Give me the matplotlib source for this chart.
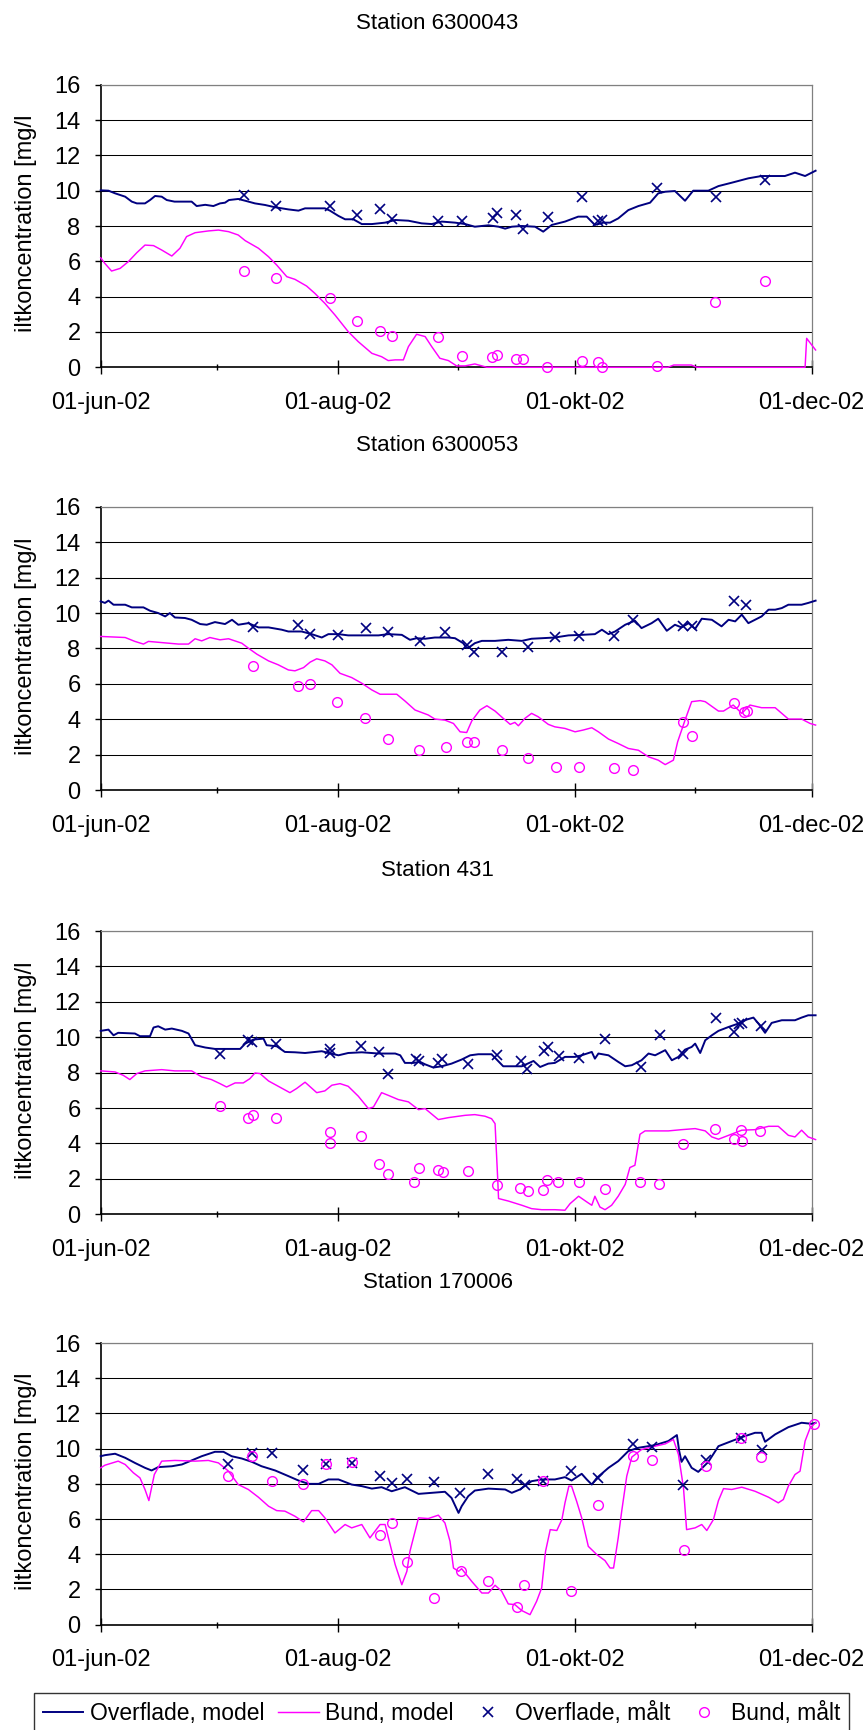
"""Iltkoncentration 2002: model mod målinger, overflade og bund, for fire stationer."""

import matplotlib

matplotlib.use("Agg")
import matplotlib.dates as mdates
import matplotlib.pyplot as plt
import numpy as np
from matplotlib.lines import Line2D
from matplotlib.ticker import FuncFormatter, MultipleLocator

plt.rcParams["font.family"] = ["Liberation Sans", "DejaVu Sans"]

# all series: (dage efter 01-jun-02, iltkoncentration mg/l)
STATIONS = ["Station 6300043", "Station 6300053", "Station 431", "Station 170006"]

s1_surf_model = [
    (0, 10.02), (2, 10.0), (3.7, 9.85), (6.3, 9.66), (8, 9.38), (9.3, 9.28), (11.4, 9.28), (12.7, 9.47),
    (14, 9.7), (15.7, 9.66), (17, 9.47), (19, 9.38), (23.4, 9.38), (24.7, 9.13), (26.9, 9.2), (29, 9.13),
    (30.7, 9.28), (32, 9.32), (33, 9.47), (35.4, 9.53), (37.2, 9.43), (39.7, 9.28), (42.3, 9.19),
    (44.9, 9.06), (48.3, 8.94), (50.9, 8.87), (52.6, 9.0), (57.7, 9.0), (59, 8.87), (61.2, 8.57),
    (62.9, 8.38), (65, 8.38), (67.2, 8.11), (69.8, 8.11), (73.2, 8.19), (75.8, 8.34), (79.2, 8.3),
    (82.6, 8.15), (85.2, 8.11), (87.8, 8.25), (91.2, 8.19), (93.8, 8.11), (96.3, 7.96), (99.8, 8.04),
    (102.4, 7.96), (104.1, 7.85), (105.8, 7.96), (108.4, 8.0), (111.8, 7.96), (113.9, 7.68), (116.1, 8.06),
    (119.5, 8.25), (122.9, 8.53), (125.1, 8.53), (127.2, 8.06), (129.4, 8.19), (131.1, 8.19), (133.2, 8.43),
    (135.8, 8.9), (138.4, 9.13), (141.4, 9.32), (143.5, 9.85), (145.3, 9.94), (147.8, 9.98), (150.4, 9.43),
    (152.5, 10.0), (156.4, 10.0), (159, 10.26), (162.4, 10.45), (166.7, 10.7), (170.1, 10.83),
    (176.1, 10.83), (178.7, 11.02), (181.3, 10.83), (184, 11.13),
]
s1_bund_model = [
    (0, 6.2), (1, 5.9), (2.8, 5.45), (5, 5.6), (7.1, 5.98), (9.3, 6.49), (11.4, 6.92), (13.6, 6.89),
    (15.7, 6.64), (18.3, 6.3), (20.4, 6.74), (22.1, 7.4), (24.3, 7.62), (27.7, 7.72), (30.3, 7.77),
    (32.9, 7.68), (35.4, 7.49), (37.2, 7.17), (40.6, 6.74), (43.2, 6.26), (45.3, 5.79), (47.9, 5.13),
    (50, 4.98), (53, 4.6), (55.1, 4.19), (57.7, 3.62), (60.3, 2.96), (63.7, 2.02), (66.3, 1.45),
    (69.8, 0.79), (72.3, 0.6), (74, 0.38), (75.8, 0.42), (77.9, 0.42), (79.2, 1.17), (81.3, 1.87),
    (83.5, 1.74), (85.2, 1.17), (87.3, 0.51), (89.5, 0.38), (91.6, 0.08), (93.8, 0.08), (96.3, 0.19),
    (99.4, 0.0), (146, 0.0), (147.5, 0.13), (152, 0.13), (153.5, 0.0), (181.3, 0.0), (181.7, 1.64),
    (184, 0.98),
]
s1_surf_obs = [
    (36.9, 9.75), (45.1, 9.13), (59.1, 9.13), (65.9, 8.62), (71.9, 8.98), (74.9, 8.38), (86.9, 8.28),
    (92.9, 8.28), (101.1, 8.43), (101.9, 8.72), (106.9, 8.62), (108.8, 7.81), (115.1, 8.49), (123.8, 9.62),
    (128.1, 8.28), (129, 8.34), (143.1, 10.13), (158.4, 9.62), (171, 10.6),
]
s1_bund_obs = [
    (36.9, 5.47), (45.1, 5.04), (59.1, 3.94), (65.9, 2.64), (71.9, 2.06), (74.9, 1.79), (86.9, 1.74),
    (92.9, 0.64), (100.8, 0.57), (101.9, 0.7), (106.9, 0.47), (108.8, 0.47), (114.8, 0.0), (123.8, 0.38),
    (127.9, 0.32), (129, 0.0), (143.1, 0.08), (158.1, 3.72), (171, 4.89),
]

s2_surf_model = [
    (0, 10.66), (1.1, 10.57), (2, 10.7), (3.3, 10.47), (6.3, 10.47), (8, 10.32), (11, 10.32), (12.7, 10.13),
    (14.8, 10.0), (16.6, 9.81), (17.8, 10.0), (19.1, 9.75), (21.7, 9.72), (23.4, 9.62), (25.6, 9.38),
    (27.3, 9.34), (29.4, 9.49), (32, 9.38), (33.8, 9.62), (35.4, 9.34), (38, 9.43), (40.6, 9.19),
    (43.2, 9.19), (46.6, 9.06), (48.3, 8.96), (51.7, 8.96), (54.3, 8.81), (56.9, 8.62), (58.6, 8.81),
    (61.2, 8.81), (63.7, 8.74), (67.2, 8.74), (71.5, 8.74), (74, 8.81), (77.5, 8.77), (79.6, 8.49),
    (81.3, 8.58), (83.5, 8.55), (86, 8.62), (89.5, 8.62), (91.2, 8.58), (93.3, 8.3), (94.2, 8.02),
    (95.1, 8.11), (96.3, 8.3), (98.1, 8.43), (101.5, 8.43), (104.9, 8.49), (108.4, 8.43), (110.9, 8.55),
    (113.5, 8.58), (116.9, 8.62), (120.4, 8.74), (123.8, 8.77), (127.2, 8.81), (129, 9.06), (130.7, 8.81),
    (132.4, 8.96), (135, 9.34), (137.5, 9.57), (139.2, 9.15), (141.8, 9.43), (143.5, 9.68), (145.7, 9.0),
    (147.8, 9.34), (149.5, 9.19), (151.3, 9.43), (153, 9.11), (154.7, 9.68), (157.3, 9.62), (159.8, 9.25),
    (161.6, 9.62), (163.3, 9.53), (165, 9.91), (166.7, 9.43), (168.4, 9.62), (170.1, 9.81), (171.9, 10.19),
    (173.6, 10.19), (175.3, 10.28), (177, 10.47), (180.4, 10.47), (182.1, 10.57), (184, 10.7),
]
s2_bund_model = [
    (0, 8.68), (6.3, 8.62), (8.8, 8.4), (11, 8.25), (12.3, 8.4), (20, 8.25), (22.6, 8.25), (24.3, 8.55),
    (26, 8.43), (28.1, 8.62), (30.7, 8.49), (32.9, 8.55), (36.3, 8.3), (38, 8.02), (40.2, 7.68), (43.2, 7.3),
    (45.7, 7.08), (48.3, 6.79), (50, 6.74), (52.2, 6.92), (53.9, 7.23), (55.6, 7.42), (57.7, 7.3),
    (59.5, 7.08), (61.6, 6.6), (64.6, 6.36), (67.2, 6.04), (69.8, 5.66), (71.9, 5.42), (76.2, 5.42),
    (78.3, 5.04), (80.9, 4.53), (84.3, 4.25), (86, 4.02), (88.6, 3.96), (90.8, 3.77), (92.5, 3.3),
    (94.2, 3.26), (95.5, 3.91), (97.6, 4.53), (99.4, 4.77), (101.5, 4.47), (103.6, 4.06), (105.4, 3.72),
    (106.6, 3.83), (107.5, 3.64), (109.2, 4.06), (110.9, 4.34), (112.6, 4.15), (115.2, 3.72), (116.9, 3.58),
    (119.5, 3.49), (122.1, 3.3), (124.2, 3.4), (126.4, 3.53), (128.1, 3.3), (130.7, 2.89), (133.2, 2.64),
    (135.8, 2.36), (138.4, 2.26), (141, 1.89), (143.5, 1.7), (145.3, 1.45), (147.4, 1.7), (148.5, 2.74),
    (150.4, 3.96), (152.1, 5.0), (154.3, 5.06), (155.6, 5.0), (159, 4.47), (160.3, 4.47), (162.8, 4.81),
    (165, 4.34), (167.1, 4.81), (170.1, 4.66), (173.6, 4.66), (177, 4.02), (180.4, 4.02), (182.6, 3.77),
    (184, 3.68),
]
s2_surf_obs = [
    (39.3, 9.19), (50.7, 9.34), (53.9, 8.81), (61, 8.74), (68.2, 9.15), (74, 8.91), (82.2, 8.4), (88.6, 8.92),
    (94.2, 8.21), (96.1, 7.79), (103.2, 7.79), (110.1, 8.08), (116.9, 8.64), (123.1, 8.68), (132.2, 8.68),
    (137.1, 9.62), (150, 9.25), (152.3, 9.25), (163.1, 10.66), (166, 10.47),
]
s2_bund_obs = [
    (39.1, 7.02), (50.7, 5.89), (53.9, 6.02), (60.9, 5.0), (68, 4.09), (74, 2.92), (82, 2.26), (88.8, 2.42),
    (94.2, 2.74), (96.1, 2.7), (103.2, 2.26), (109.9, 1.83), (117.1, 1.32), (123.1, 1.32), (132.2, 1.26),
    (137.1, 1.17), (149.8, 3.83), (152.1, 3.08), (163.1, 4.94), (165.7, 4.4), (166.4, 4.47),
]

s3_surf_model = [
    (0, 10.36), (2, 10.43), (3.3, 10.11), (4.5, 10.25), (8.8, 10.21), (10.1, 10.06), (12.7, 10.06),
    (13.6, 10.55), (14.8, 10.62), (16.6, 10.43), (18.3, 10.49), (20.9, 10.36), (22.6, 10.21), (24.3, 9.55),
    (26.9, 9.42), (29.4, 9.34), (35.9, 9.34), (37.2, 9.64), (39.3, 9.87), (41.9, 9.92), (42.7, 9.55),
    (45.3, 9.49), (47.4, 9.17), (50, 9.15), (52.6, 9.11), (56.9, 9.21), (58.6, 9.11), (61.2, 8.98),
    (63.7, 9.11), (67.2, 9.15), (71.5, 9.08), (75.8, 9.08), (77.1, 8.98), (78.3, 8.55), (80.5, 8.55),
    (82.2, 8.61), (83.5, 8.47), (85.6, 8.29), (87.8, 8.36), (90.3, 8.51), (92.9, 8.74), (95.1, 8.98),
    (97.2, 9.04), (100.6, 9.04), (103.6, 8.36), (108.4, 8.36), (111.4, 8.66), (113.1, 8.32), (115.2, 8.51),
    (116.9, 8.55), (119.5, 8.89), (122.1, 8.89), (123.8, 8.98), (126.4, 9.17), (127.2, 8.79), (128.1, 9.08),
    (130.7, 8.98), (133.2, 8.61), (135, 8.36), (136.7, 8.42), (139.2, 8.7), (141, 9.08), (142.7, 8.98),
    (145.3, 9.27), (147, 8.7), (148.7, 8.89), (150.4, 9.3), (152.1, 9.45), (153, 9.64), (154.3, 9.11),
    (155.6, 9.83), (157.3, 10.11), (159, 10.36), (161.6, 10.58), (164.1, 10.77), (166.3, 11.0), (168, 11.11),
    (169.3, 10.77), (171, 10.25), (172.7, 10.81), (175.3, 10.96), (178.7, 10.96), (180.4, 11.11),
    (182.1, 11.24), (184, 11.24),
]
s3_bund_model = [
    (0, 8.1), (3.7, 8.04), (5.8, 7.85), (7.5, 7.61), (9.3, 7.95), (11.4, 8.1), (15.7, 8.17), (19.1, 8.1),
    (23.4, 8.1), (26, 7.76), (28.5, 7.61), (30.7, 7.38), (32.4, 7.19), (34.6, 7.42), (36.7, 7.42),
    (38.4, 7.66), (39.7, 7.98), (41, 7.95), (43.2, 7.53), (45.7, 7.23), (48.7, 6.87), (50.4, 7.1),
    (52.6, 7.46), (55.6, 6.87), (57.7, 6.97), (59.5, 7.29), (61.6, 7.38), (63.7, 7.23), (66.3, 6.67),
    (68.9, 5.97), (70.2, 6.06), (72.3, 6.87), (74, 6.72), (76.6, 6.48), (79.2, 6.35), (81.8, 5.91),
    (83.5, 5.97), (86.9, 5.35), (89.5, 5.46), (93.8, 5.59), (96.3, 5.63), (98.9, 5.54), (100.6, 5.4),
    (101.5, 5.12), (102.2, 1.92), (102.4, 0.89), (104.9, 0.75), (108.4, 0.51), (110.9, 0.32), (113.5, 0.26),
    (116.9, 0.26), (119.5, 0.23), (120.8, 0.6), (123, 1.02), (125.1, 0.7), (126.4, 0.51), (127.2, 1.02),
    (128.5, 0.41), (129.8, 0.26), (131.5, 0.51), (133.2, 1.02), (135, 1.69), (136.2, 2.64), (137.5, 2.77),
    (138.8, 4.52), (140.1, 4.71), (146.1, 4.71), (149.5, 4.78), (153, 4.84), (155.6, 4.71), (157.3, 4.37),
    (159, 4.24), (161.6, 4.46), (165, 4.75), (168.4, 4.78), (171.9, 4.97), (174.4, 4.97), (177, 4.46),
    (178.7, 4.37), (180.4, 4.75), (182.1, 4.37), (184, 4.22),
]
s3_surf_obs = [
    (30.7, 9.08), (38, 9.83), (38.9, 9.74), (45.1, 9.6), (59, 9.36), (59.1, 9.11), (67, 9.49), (71.7, 9.17),
    (74, 7.95), (81.1, 8.79), (82, 8.66), (86.9, 8.55), (87.9, 8.79), (94.6, 8.51), (101.9, 9.02),
    (108.1, 8.66), (109.8, 8.23), (114.2, 9.23), (115.1, 9.45), (118, 8.93), (123.1, 8.83), (129.8, 9.92),
    (139.1, 8.32), (143.9, 10.11), (150, 9.08), (158.4, 11.11), (163.1, 10.3), (164.3, 10.77), (165, 10.81),
    (170, 10.62),
]
s3_bund_obs = [
    (30.7, 6.12), (37.8, 5.46), (39.3, 5.63), (45.1, 5.46), (59, 4.65), (59, 4.05), (66.9, 4.41), (71.7, 2.82),
    (74, 2.3), (80.7, 1.83), (81.9, 2.64), (86.9, 2.49), (88.2, 2.39), (94.6, 2.43), (101.9, 1.68),
    (107.9, 1.49), (109.9, 1.32), (113.9, 1.39), (114.8, 1.92), (117.8, 1.83), (123.1, 1.83), (129.8, 1.41),
    (138.8, 1.83), (143.8, 1.73), (149.8, 3.95), (158.1, 4.82), (163.1, 4.24), (164.8, 4.75), (165, 4.14),
    (169.7, 4.71),
]

s4_surf_model = [
    (0, 9.57), (1.1, 9.63), (3.7, 9.71), (6.3, 9.48), (8.8, 9.19), (11.4, 8.91), (13.1, 8.76), (14.8, 8.95),
    (18.3, 9.0), (20.9, 9.1), (23.4, 9.33), (26, 9.57), (29.4, 9.82), (31.6, 9.82), (33.7, 9.57), (36.3, 9.44),
    (38.9, 9.25), (41.4, 9.0), (44.9, 8.76), (48.3, 8.44), (50.9, 8.19), (53.5, 8.0), (56.1, 8.0), (58.6, 8.25),
    (61.2, 8.25), (64.6, 7.96), (67.2, 7.87), (69.8, 7.73), (72.3, 7.81), (74.9, 7.58), (78.3, 7.81),
    (81.8, 7.43), (85.2, 7.49), (88.6, 7.55), (90.3, 7.2), (92.1, 6.35), (92.9, 6.73), (94.6, 7.3),
    (96.3, 7.62), (99.8, 7.73), (104.1, 7.68), (105.8, 7.49), (107.9, 7.68), (110.9, 8.15), (113.5, 8.25),
    (116.9, 8.25), (119.5, 8.38), (121.2, 8.19), (123.8, 8.57), (125.1, 8.25), (126.4, 7.96), (127.7, 8.34),
    (130.7, 8.91), (133.2, 9.29), (135.8, 9.86), (138.4, 10.05), (142.7, 10.2), (146.1, 10.43),
    (148.3, 10.77), (148.9, 9.86), (149.5, 9.25), (150.4, 9.57), (152.1, 8.91), (153.8, 8.68), (156.4, 9.25),
    (159, 10.14), (162.4, 10.43), (165, 10.65), (168.4, 10.9), (170.1, 10.9), (171, 10.39), (173.6, 10.81),
    (177, 11.22), (180.4, 11.47), (183, 11.41), (184, 11.47),
]
s4_bund_model = [
    (0, 8.91), (1.1, 9.06), (4.5, 9.29), (6.3, 9.1), (8.4, 8.63), (10.1, 8.34), (11.4, 7.68), (12.4, 7.05),
    (13.8, 8.53), (15.7, 9.29), (19.1, 9.33), (24.3, 9.29), (27.7, 9.33), (30.3, 9.19), (32.9, 8.72),
    (35.4, 7.96), (38, 7.68), (40.6, 7.24), (43.2, 6.73), (45.3, 6.48), (47.4, 6.45), (50, 6.16), (52.2, 5.84),
    (54.3, 6.48), (56.1, 6.48), (57.7, 6.07), (60.3, 5.21), (62.9, 5.69), (64.6, 5.5), (67.2, 5.69),
    (69.3, 4.93), (71.9, 5.69), (73.2, 5.69), (74.5, 4.55), (75.8, 3.41), (77.5, 2.27), (78.8, 3.03),
    (79.6, 4.17), (81.8, 6.07), (84.3, 6.03), (86.9, 6.22), (88.6, 5.78), (89.9, 4.74), (90.8, 3.22),
    (92.1, 3.03), (92.9, 3.18), (95.5, 2.46), (98.1, 1.8), (99.8, 1.8), (101.5, 2.24), (103.2, 1.9),
    (104.9, 1.18), (106.6, 1.14), (108.4, 0.8), (110.5, 0.57), (112.2, 1.33), (113.5, 2.09), (114.5, 4.17),
    (115.7, 5.4), (117.4, 5.35), (118.7, 5.97), (119.5, 6.92), (120.5, 7.87), (121.2, 7.87), (122.5, 7.01),
    (123.8, 6.07), (125.5, 4.45), (127.7, 3.98), (129.8, 3.64), (131.1, 3.22), (132, 3.22), (133.2, 4.93),
    (134.1, 6.45), (135.4, 8.44), (136.7, 9.52), (139.2, 9.95), (142.7, 10.14), (145.3, 10.27),
    (147.4, 10.52), (148.7, 9.67), (150, 7.77), (150.8, 5.4), (153, 5.5), (154.7, 5.69), (156, 5.35),
    (157.7, 5.97), (159, 7.05), (160.3, 7.73), (162.4, 7.68), (165, 7.81), (168.4, 7.58), (171.9, 7.24),
    (174.4, 6.92), (175.7, 7.11), (177, 7.87), (178.7, 8.53), (180, 8.72), (181.3, 10.43), (182.6, 11.18),
    (184, 11.47),
]
s4_surf_obs = [
    (32.7, 9.1), (38.9, 9.76), (44, 9.76), (52, 8.76), (58, 9.14), (64.8, 9.19), (71.9, 8.44), (74.9, 8.06),
    (78.8, 8.3), (85.9, 8.11), (92.6, 7.49), (99.8, 8.57), (107.1, 8.25), (109.2, 7.96), (113.8, 8.19),
    (121, 8.72), (127.9, 8.34), (136.9, 10.24), (141.8, 10.09), (150, 7.96), (155.7, 9.33), (164.8, 10.62),
    (170.1, 9.9),
]
s4_bund_obs = [
    (32.7, 8.44), (38.9, 9.57), (44, 8.19), (52, 8.0), (58, 9.14), (64.8, 9.23), (71.9, 5.12), (74.9, 5.78),
    (78.8, 3.56), (85.9, 1.52), (92.7, 3.07), (99.8, 2.5), (107.1, 0.99), (109, 2.27), (113.8, 8.15),
    (121, 1.93), (127.9, 6.82), (136.9, 9.57), (141.8, 9.33), (150.1, 4.27), (155.7, 9.0), (164.8, 10.58),
    (170, 9.52), (183.5, 11.41),
]

LEGEND_LABELS = ["Overflade, model", "Bund, model", "Overflade, målt", "Bund, målt"]
# the original axis title is cut off by the chart area after "[mg/l"
YLABEL = "iltkoncentration [mg/l"
DK_MONTHS = {6: "jun", 7: "jul", 8: "aug", 9: "sep", 10: "okt", 11: "nov", 12: "dec"}

NAVY = "#000080"
MAGENTA = "#FF00FF"
START = mdates.date2num(np.datetime64("2002-06-01"))
W, H = 867, 1730
# (axes top px, axes bottom px) in the 867x1730 canvas
PANEL_PX = [(84.7, 367.3), (506.7, 790.3), (931.0, 1214.3), (1343.0, 1624.7)]
AX_LEFT, AX_RIGHT = 100.7, 811.7


def _xy(pairs):
    arr = np.array(pairs, dtype=float)
    return START + arr[:, 0], arr[:, 1]


def _dk_date(x, pos=None):
    d = mdates.num2date(x)
    return f"{d.day:02d}-{DK_MONTHS[d.month]}-{d:%y}"


def draw_panel(fig, top, bottom, title, surf_model, bund_model, surf_obs, bund_obs):
    ax = fig.add_axes([AX_LEFT / W, 1 - bottom / H, (AX_RIGHT - AX_LEFT) / W, (bottom - top) / H])
    ax.plot(*_xy(surf_model), color=NAVY, lw=1.4, clip_on=False, zorder=3)
    ax.plot(*_xy(bund_model), color=MAGENTA, lw=1.05, clip_on=False, zorder=3)
    ax.plot(*_xy(surf_obs), ls="none", marker="x", ms=7, mew=1.2, color=NAVY, clip_on=False, zorder=4)
    ax.plot(*_xy(bund_obs), ls="none", marker="o", ms=7, mew=1.0, mfc="none", mec=MAGENTA,
            clip_on=False, zorder=4)

    ax.set_xlim(START, START + 183)
    ax.set_ylim(0, 16)
    ax.yaxis.set_major_locator(MultipleLocator(2))
    ax.xaxis.set_major_locator(mdates.MonthLocator(bymonth=[6, 8, 10, 12]))
    ax.xaxis.set_minor_locator(mdates.MonthLocator(bymonth=[7, 9, 11]))
    ax.xaxis.set_major_formatter(FuncFormatter(_dk_date))
    ax.yaxis.grid(True, color="black", lw=0.75)
    ax.set_axisbelow(True)

    ax.tick_params(axis="x", which="major", direction="inout", length=9.5, width=1.0, pad=13, labelsize=17)
    ax.tick_params(axis="x", which="minor", direction="inout", length=5, width=1.0)
    ax.tick_params(axis="y", direction="out", length=4.5, width=1.0, pad=10, labelsize=17)
    for side in ("left", "bottom"):
        ax.spines[side].set_color("black")
        ax.spines[side].set_linewidth(1.2)
    for side in ("top", "right"):
        ax.spines[side].set_color("#808080")
        ax.spines[side].set_linewidth(0.9)

    ax.text(0.4737, 1 + 61 / (bottom - top), title, transform=ax.transAxes,
            ha="center", va="center", fontsize=16)
    fig.text(25.8 / W, 1 - (bottom - 35) / H, YLABEL, rotation=90, ha="center", va="bottom", fontsize=17)
    return ax


if __name__ == "__main__":
    fig = plt.figure(figsize=(W / 100, H / 100), dpi=100)
    panels = [
        (s1_surf_model, s1_bund_model, s1_surf_obs, s1_bund_obs),
        (s2_surf_model, s2_bund_model, s2_surf_obs, s2_bund_obs),
        (s3_surf_model, s3_bund_model, s3_surf_obs, s3_bund_obs),
        (s4_surf_model, s4_bund_model, s4_surf_obs, s4_bund_obs),
    ]
    for (top, bottom), title, series in zip(PANEL_PX, STATIONS, panels):
        draw_panel(fig, top, bottom, title, *series)

    handles = [
        Line2D([], [], color=NAVY, lw=1.4),
        Line2D([], [], color=MAGENTA, lw=1.05),
        Line2D([], [], ls="none", marker="x", ms=7, mew=1.2, color=NAVY),
        Line2D([], [], ls="none", marker="o", ms=7, mew=1.0, mfc="none", mec=MAGENTA),
    ]
    leg = fig.legend(handles, LEGEND_LABELS, loc="upper left", bbox_to_anchor=(34 / W, 1 - 1693 / H),
                     ncol=4, fontsize=16.5, frameon=True, fancybox=False, edgecolor="black",
                     borderpad=0.4, handlelength=1.75, handletextpad=0.3, columnspacing=0.6,
                     borderaxespad=0)
    leg.get_frame().set_linewidth(1.0)

    fig.savefig("out.png", dpi=100)
    plt.close(fig)
